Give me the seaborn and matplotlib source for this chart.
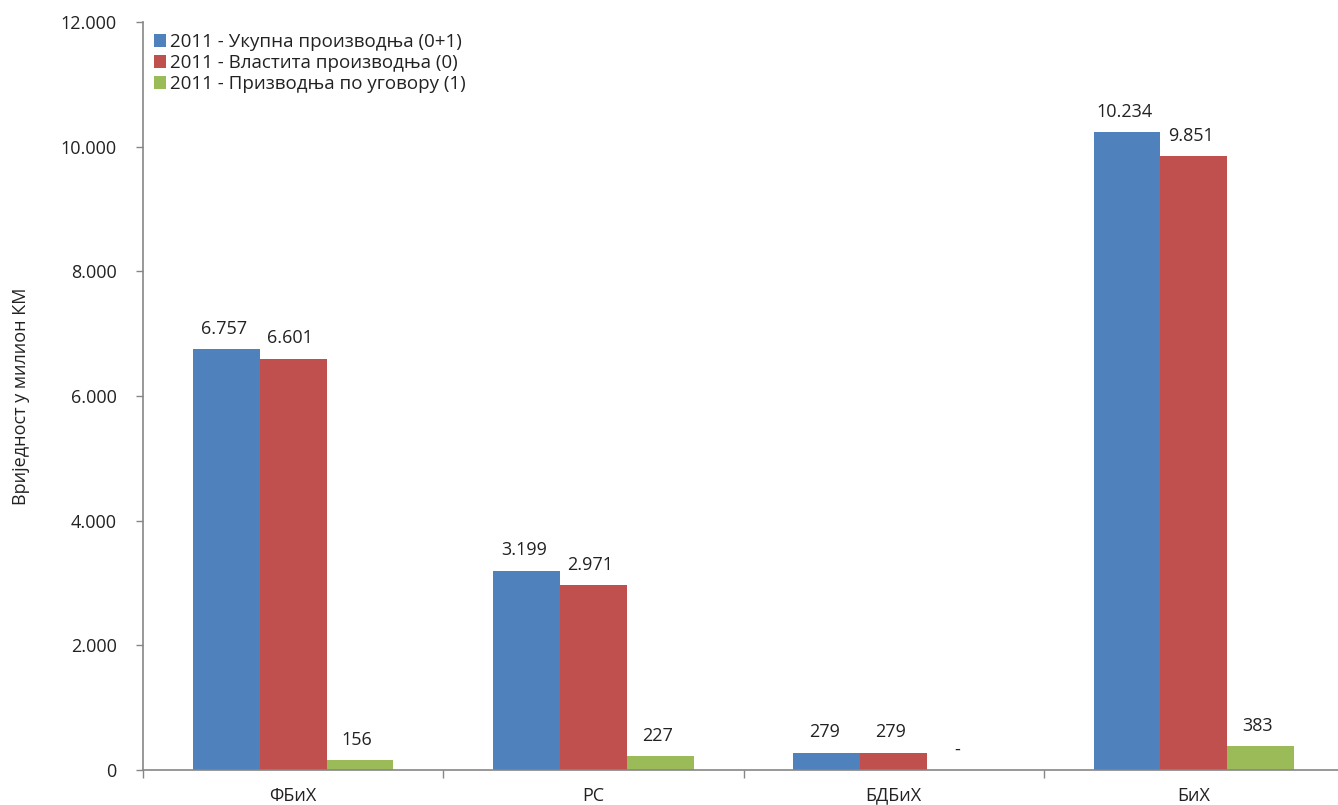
import matplotlib
matplotlib.use("Agg")
import matplotlib.pyplot as plt
import seaborn as sns
import pandas as pd
from matplotlib.patches import Patch

categories = ["ФБиХ", "РС", "БДБиХ", "БиХ"]
series_names = ["2011 - Укупна производња (0+1)",
                "2011 - Властита производња (0)",
                "2011 - Призводња по уговору (1)"]
total_vals = [6757, 3199, 279, 10234]
own_vals = [6601, 2971, 279, 9851]
contract_vals = [156, 227, 0, 383]
colors = ["#4F81BD", "#C0504D", "#9BBB59"]
y_ticks = [0, 2000, 4000, 6000, 8000, 10000, 12000]
y_label = "Вриједност у милион КМ"

rows = []
for name, vals in zip(series_names, [total_vals, own_vals, contract_vals]):
    for c, v in zip(categories, vals):
        rows.append({"cat": c, "series": name, "value": v})
df = pd.DataFrame(rows)

sns.set_theme(style="white")
plt.rcParams["font.family"] = ["Open Sans", "DejaVu Sans"]

fig = plt.figure(figsize=(13.38, 8.05), dpi=100)
ax = fig.add_axes([143/1338, 1 - 770/805, 1201/1338, (770 - 22)/805])

sns.barplot(data=df, x="cat", y="value", hue="series", palette=colors,
            order=categories, hue_order=series_names, width=0.667,
            saturation=1, ax=ax, legend=False, edgecolor="none", linewidth=0)

def fmt(v):
    if v == 0:
        return "-"
    return f"{v:,}".replace(",", ".")

for cont in ax.containers:
    for bar in cont:
        h = bar.get_height()
        ax.annotate(fmt(int(round(h))), (bar.get_x() + bar.get_width()/2, h),
                    xytext=(-2, 8), textcoords="offset points",
                    ha="center", va="bottom", fontsize=13, color="#222222")

ax.set_ylim(0, 12000)
ax.set_xlim(-0.5, 3.5)
ax.set_yticks(y_ticks)
ax.set_yticklabels([fmt(t) if t else "0" for t in y_ticks], fontsize=13, color="#222222")
ax.set_xticks([-0.5, 0.5, 1.5, 2.5, 3.5])
ax.set_xticklabels([])
ax.set_xticks(range(len(categories)), minor=True)
ax.set_xticklabels(categories, minor=True, fontsize=13, color="#222222")
ax.tick_params(axis="x", which="major", length=6, width=1, color="#868686", direction="out", bottom=True)
ax.tick_params(axis="x", which="minor", length=0, pad=12)
ax.tick_params(axis="y", length=5, width=1, color="#868686", direction="out", left=True, pad=14)
ax.set_xlabel("")
ax.set_ylabel(y_label, fontsize=13, labelpad=22, color="#222222")
for s in ["top", "right"]:
    ax.spines[s].set_visible(False)
for s in ["left", "bottom"]:
    ax.spines[s].set_color("#868686")
    ax.spines[s].set_linewidth(1.2)

handles = [Patch(facecolor=c, edgecolor="none") for c in colors]
ax.legend(handles, series_names, loc="upper left", bbox_to_anchor=(0.0, 1.0),
          frameon=False, fontsize=13.5, handlelength=0.65, handleheight=0.65,
          handletextpad=0.2, labelspacing=0.15, borderaxespad=0.2,
          labelcolor="#222222")

fig.savefig("out.png", dpi=100)
